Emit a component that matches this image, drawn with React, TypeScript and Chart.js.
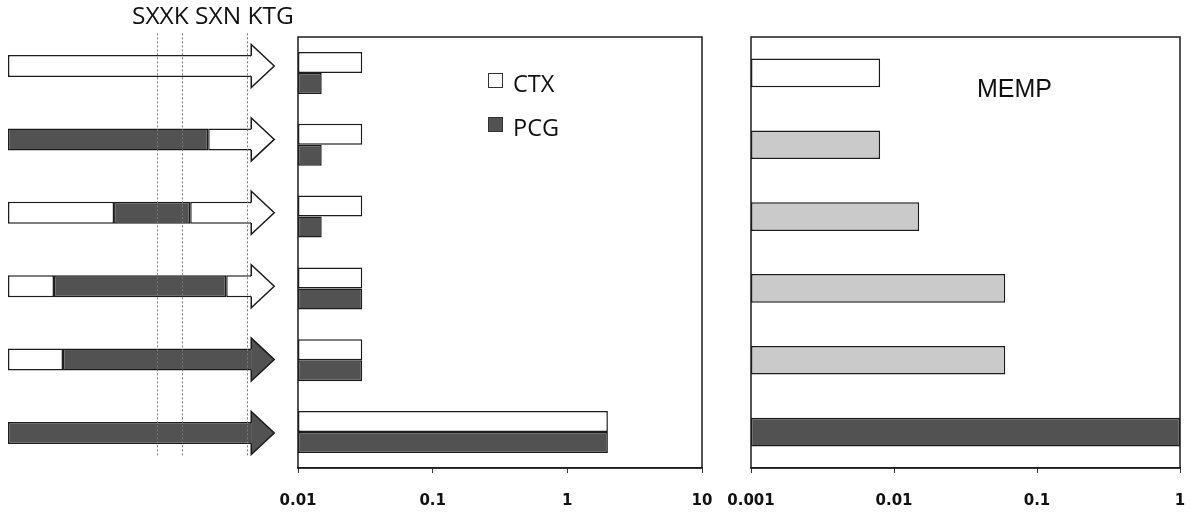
import React, { useEffect, useRef } from 'react';
import { Chart, registerables } from 'chart.js';

Chart.register(...registerables);

// ---------- data ----------
const constructs = ['Construct 1', 'Construct 2', 'Construct 3', 'Construct 4', 'Construct 5', 'Construct 6'];

// diagram segments (stacked lengths along the construct, body = 0..100)
const leadSegment = [100, null, 43.6, 18.9, 22.6, null];
const coreSegment = [null, 82.3, 31.3, 70.8, 77.4, 100];
const tailSegment = [null, 17.7, 25.1, 10.3, null, null];
const headFilled = [false, false, false, false, true, true];
const motifPositions = [61.3, 71.6, 98.4];
const motifTitle = 'SXXK SXN KTG';

// middle panel
const ctxValues = [0.03, 0.03, 0.03, 0.03, 0.03, 2];
const pcgValues = [0.015, 0.015, 0.015, 0.03, 0.03, 2];
const middleTicks = [0.01, 0.1, 1, 10];

// right panel
const mempLabel = 'MEMP';
const mempValues = [0.008, 0.008, 0.015, 0.06, 0.06, 1];
const mempShade = ['white', 'light', 'light', 'light', 'light', 'dark'];
const rightTicks = [0.001, 0.01, 0.1, 1];

// ---------- styles ----------
const WHITE = '#ffffff';
const DARK = '#525252';
const LIGHT = '#cacaca';
const EDGE = '#1c1c1c';
const shadeColor: Record<string, string> = { white: WHITE, light: LIGHT, dark: DARK };

const framePlugin = {
  id: 'frameBox',
  afterDatasetsDraw(chart: any, _a: any, opts: any) {
    if (!opts || !opts.enabled) return;
    const { ctx, chartArea: a } = chart;
    ctx.save();
    ctx.strokeStyle = EDGE;
    ctx.lineWidth = 1.5;
    ctx.strokeRect(a.left, a.top, a.right - a.left, a.bottom - a.top);
    ctx.restore();
  },
};

const arrowPlugin = {
  id: 'arrowHeads',
  afterDatasetsDraw(chart: any, _a: any, opts: any) {
    if (!opts || !opts.enabled) return;
    const { ctx } = chart;
    const xs = chart.scales.x;
    const ys = chart.scales.y;
    const len = opts.length;
    const hh = opts.halfHeight;
    ctx.save();
    constructs.forEach((_, i) => {
      const end = (leadSegment[i] ?? 0) + (coreSegment[i] ?? 0) + (tailSegment[i] ?? 0);
      const xb = xs.getPixelForValue(end);
      const yc = ys.getPixelForValue(i);
      let bh = 22;
      for (let d = 0; d < chart.data.datasets.length; d++) {
        const el = chart.getDatasetMeta(d).data[i] as any;
        if (el && chart.data.datasets[d].data[i] != null) { bh = el.height; break; }
      }
      const fill = headFilled[i] ? DARK : WHITE;
      const bt = yc - bh / 2 + 0.75;
      const bb = yc + bh / 2 - 0.75;
      ctx.fillStyle = fill;
      ctx.fillRect(xb - 2.5, bt + 0.75, 3, bb - bt - 1.5);
      ctx.beginPath();
      ctx.moveTo(xb, yc - hh);
      ctx.lineTo(xb + len, yc);
      ctx.lineTo(xb, yc + hh);
      ctx.closePath();
      ctx.fill();
      ctx.beginPath();
      ctx.moveTo(xb, bt);
      ctx.lineTo(xb, yc - hh);
      ctx.lineTo(xb + len, yc);
      ctx.lineTo(xb, yc + hh);
      ctx.lineTo(xb, bb);
      ctx.strokeStyle = EDGE;
      ctx.lineWidth = 1.5;
      ctx.lineJoin = 'miter';
      ctx.stroke();
    });
    ctx.restore();
  },
};

const motifPlugin = {
  id: 'motifLines',
  afterDatasetsDraw(chart: any, _a: any, opts: any) {
    if (!opts || !opts.enabled) return;
    const { ctx, chartArea: a } = chart;
    const xs = chart.scales.x;
    ctx.save();
    ctx.strokeStyle = '#7a7a7a';
    ctx.lineWidth = 1;
    ctx.setLineDash([2, 2]);
    motifPositions.forEach((v) => {
      const x = Math.round(xs.getPixelForValue(v)) + 0.5;
      ctx.beginPath();
      ctx.moveTo(x, a.top + opts.topInset);
      ctx.lineTo(x, a.bottom - opts.bottomInset);
      ctx.stroke();
    });
    ctx.restore();
    ctx.save();
    ctx.fillStyle = '#111';
    ctx.font = opts.titleFont;
    ctx.textBaseline = 'alphabetic';
    ctx.textAlign = 'left';
    ctx.fillText(motifTitle, opts.titleX, opts.titleY);
    ctx.restore();
  },
};

const innerLegendPlugin = {
  id: 'innerLegend',
  afterDatasetsDraw(chart: any, _a: any, opts: any) {
    if (!opts || !opts.enabled) return;
    const { ctx, chartArea: a } = chart;
    ctx.save();
    chart.data.datasets.forEach((ds: any, i: number) => {
      const x = a.left + opts.dx;
      const y = a.top + opts.dy + i * opts.gap;
      ctx.fillStyle = ds.backgroundColor;
      ctx.fillRect(x, y, opts.box, opts.box);
      ctx.strokeStyle = '#333';
      ctx.lineWidth = 1;
      ctx.strokeRect(x + 0.5, y + 0.5, opts.box - 1, opts.box - 1);
      ctx.fillStyle = '#111';
      ctx.font = opts.font;
      ctx.textBaseline = 'alphabetic';
      ctx.fillText(ds.label, x + opts.textGap, y + opts.baseline);
    });
    ctx.restore();
  },
};

const panelLabelPlugin = {
  id: 'panelLabel',
  afterDatasetsDraw(chart: any, _a: any, opts: any) {
    if (!opts || !opts.enabled) return;
    const { ctx, chartArea: a } = chart;
    ctx.save();
    ctx.fillStyle = '#111';
    ctx.font = opts.font;
    ctx.textBaseline = 'alphabetic';
    ctx.fillText(opts.text, a.left + opts.dx, a.top + opts.dy);
    ctx.restore();
  },
};

Chart.register(framePlugin, arrowPlugin, motifPlugin, innerLegendPlugin, panelLabelPlugin);

const tickFont = { family: '"DejaVu Sans", Verdana, sans-serif', weight: 'bold' as const, size: 15 };

function logAxis(min: number, max: number, ticks: number[]) {
  return {
    type: 'logarithmic' as const,
    min,
    max,
    afterBuildTicks: (s: any) => {
      s.ticks = ticks.map((v) => ({ value: v }));
    },
    ticks: {
      callback: (v: any) => String(v),
      font: tickFont,
      color: '#111',
      padding: 19,
      autoSkip: false,
      maxRotation: 0,
      minRotation: 0,
    },
    grid: { drawOnChartArea: false, tickLength: 5, color: '#333', lineWidth: 1 },
    border: { color: EDGE, width: 1.5 },
  };
}

export default function App() {
  const diagRef = useRef<HTMLCanvasElement>(null);
  const midRef = useRef<HTMLCanvasElement>(null);
  const rightRef = useRef<HTMLCanvasElement>(null);

  useEffect(() => {
    document.body.style.margin = '0';
    const charts: Chart[] = [];

    charts.push(
      new Chart(diagRef.current!, {
        type: 'bar',
        data: {
          labels: constructs,
          datasets: [
            { label: 'lead', data: leadSegment as any, backgroundColor: WHITE },
            { label: 'core', data: coreSegment as any, backgroundColor: DARK },
            { label: 'tail', data: tailSegment as any, backgroundColor: WHITE },
          ],
        },
        options: {
          indexAxis: 'y',
          responsive: false,
          animation: false,
          layout: { padding: { left: 8, right: 0, top: 29.3, bottom: 45.3 } },
          datasets: {
            bar: {
              categoryPercentage: 0.3,
              barPercentage: 1,
              borderWidth: 1.5,
              borderColor: EDGE,
              borderSkipped: false,
            },
          },
          scales: {
            x: { type: 'linear', stacked: true, min: 0, max: 118.4, display: false },
            y: { stacked: true, display: false },
          },
          plugins: {
            legend: { display: false },
            tooltip: { enabled: false },
            arrowHeads: { enabled: true, length: 23, halfHeight: 21.5 },
            motifLines: {
              enabled: true,
              topInset: 4,
              bottomInset: 13,
              titleFont: '24.5px "Open Sans", sans-serif',
              titleX: 132,
              titleY: 24,
            },
          } as any,
        },
      })
    );

    charts.push(
      new Chart(midRef.current!, {
        type: 'bar',
        data: {
          labels: constructs,
          datasets: [
            { label: 'CTX', data: ctxValues, backgroundColor: WHITE },
            { label: 'PCG', data: pcgValues, backgroundColor: DARK },
          ],
        },
        options: {
          indexAxis: 'y',
          responsive: false,
          animation: false,
          layout: { padding: { left: 38, right: 34, top: 37, bottom: 0 } },
          datasets: {
            bar: {
              categoryPercentage: 0.585,
              barPercentage: 1,
              borderWidth: 1.5,
              borderColor: EDGE,
              borderSkipped: false,
            },
          },
          scales: {
            x: logAxis(0.01, 10, middleTicks) as any,
            y: { display: false },
          },
          plugins: {
            legend: { display: false },
            tooltip: { enabled: false },
            frameBox: { enabled: true },
            innerLegend: {
              enabled: true,
              dx: 190,
              dy: 36,
              gap: 44,
              box: 15,
              textGap: 25,
              baseline: 19,
              font: '23.5px "Open Sans", sans-serif',
            },
          } as any,
        },
      })
    );

    charts.push(
      new Chart(rightRef.current!, {
        type: 'bar',
        data: {
          labels: constructs,
          datasets: [
            {
              label: mempLabel,
              data: mempValues,
              backgroundColor: mempShade.map((s) => shadeColor[s]),
            },
          ],
        },
        options: {
          indexAxis: 'y',
          responsive: false,
          animation: false,
          layout: { padding: { left: 46, right: 28, top: 37, bottom: 0 } },
          datasets: {
            bar: {
              categoryPercentage: 0.4,
              barPercentage: 1,
              borderWidth: 1.5,
              borderColor: EDGE,
              borderSkipped: false,
            },
          },
          scales: {
            x: logAxis(0.001, 1, rightTicks) as any,
            y: { display: false },
          },
          plugins: {
            legend: { display: false },
            tooltip: { enabled: false },
            frameBox: { enabled: true },
            panelLabel: {
              enabled: true,
              text: mempLabel,
              dx: 226,
              dy: 60,
              font: '25px "Liberation Sans", Arial, sans-serif',
            },
          } as any,
        },
      })
    );

    return () => charts.forEach((c) => c.destroy());
  }, []);

  return (
    <div
      style={{
        position: 'fixed',
        left: 0,
        top: 0,
        width: 1190,
        height: 515,
        overflow: 'hidden',
        background: '#ffffff',
      }}
    >
      <canvas ref={diagRef} width={296} height={515} style={{ position: 'absolute', left: 0, top: 0 }} />
      <canvas ref={midRef} width={476} height={529} style={{ position: 'absolute', left: 260, top: 0 }} />
      <canvas ref={rightRef} width={503} height={529} style={{ position: 'absolute', left: 705, top: 0 }} />
    </div>
  );
}
